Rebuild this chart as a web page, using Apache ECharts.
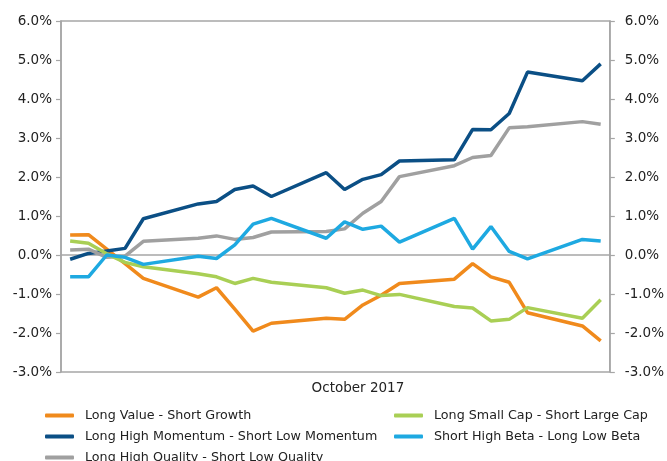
<!DOCTYPE html>
<html>
<head>
<meta charset="utf-8">
<script src="https://cdn.jsdelivr.net/npm/echarts@6/dist/echarts.min.js"></script>
<style>
  html, body { margin: 0; padding: 0; background: #fff; }
  #chart { width: 667px; height: 461px; }
</style>
</head>
<body>
<div id="chart"></div>
<script>
  // trading days in October 2017 (day of month)
  var days = [2, 3, 4, 5, 6, 9, 10, 11, 12, 13, 16, 17, 18, 19, 20, 23, 24, 25, 26, 27, 30, 31];

  // cumulative spread returns, %
  var valueGrowth = [0.51, 0.52, 0.15, -0.22, -0.60, -1.08, -0.84, -1.39, -1.95, -1.75, -1.62,
                     -1.65, -1.28, -1.03, -0.73, -0.62, -0.22, -0.56, -0.70, -1.48, -1.82, -2.20];
  var momentum    = [-0.11, 0.04, 0.10, 0.17, 0.93, 1.31, 1.37, 1.68, 1.77, 1.50, 2.11,
                     1.68, 1.94, 2.06, 2.41, 2.44, 3.22, 3.21, 3.63, 4.69, 4.47, 4.90];
  var quality     = [0.13, 0.15, -0.06, -0.03, 0.35, 0.43, 0.49, 0.40, 0.45, 0.59, 0.60,
                     0.67, 1.07, 1.37, 2.01, 2.29, 2.50, 2.55, 3.26, 3.29, 3.42, 3.35];
  var smallLarge  = [0.36, 0.30, 0.03, -0.19, -0.30, -0.48, -0.56, -0.73, -0.60, -0.70, -0.84,
                     -0.98, -0.90, -1.04, -1.01, -1.32, -1.36, -1.69, -1.65, -1.35, -1.62, -1.15];
  var beta        = [-0.56, -0.56, 0.00, -0.06, -0.24, -0.03, -0.09, 0.26, 0.79, 0.94, 0.43,
                     0.85, 0.66, 0.74, 0.33, 0.94, 0.15, 0.73, 0.09, -0.10, 0.40, 0.36];

  var names = [
    'Long Value - Short Growth',
    'Long High Momentum - Short Low Momentum',
    'Long High Quality - Short Low Quality',
    'Long Small Cap - Short Large Cap',
    'Short High Beta - Long Low Beta'
  ];
  var colors = ['#F08A1C', '#0B4F85', '#A0A0A0', '#A9CF55', '#1EA9E1'];
  var xName = 'October 2017';

  function pairs(vals) {
    var out = [];
    for (var i = 0; i < days.length; i++) {
      out.push([days[i], vals[i]]);
    }
    return out;
  }

  function yAxisOpt(pos, margin) {
    return {
      type: 'value',
      position: pos,
      min: -3,
      max: 6,
      interval: 1,
      splitLine: { show: false },
      axisLine: { show: true, lineStyle: { color: '#a6a6a6', width: 1.5 } },
      axisTick: { show: true, length: 5, lineStyle: { color: '#a6a6a6', width: 1.2 } },
      axisLabel: {
        margin: margin,
        color: '#222',
        fontSize: 13.5,
        formatter: function (v) { return v.toFixed(1) + '%'; }
      }
    };
  }

  // one legend per entry so the two columns sit where the reference has them
  function legendItem(name, left, top) {
    return {
      left: left, top: top, padding: 0,
      icon: 'roundRect', itemWidth: 29, itemHeight: 4,
      textStyle: { color: '#222', fontSize: 12.7, padding: [0, 0, 0, 6] },
      data: [name]
    };
  }

  var myChart = echarts.init(document.getElementById('chart'));
  var seriesList = [];
  var allData = [valueGrowth, momentum, quality, smallLarge, beta];
  for (var k = 0; k < names.length; k++) {
    seriesList.push({
      name: names[k],
      type: 'line',
      data: pairs(allData[k]),
      showSymbol: false,
      color: colors[k],
      lineStyle: { width: 3.5, color: colors[k] }
    });
  }

  myChart.setOption({
    animation: false,
    textStyle: { fontFamily: 'DejaVu Sans' },
    grid: {
      left: 61, right: 53, top: 21, bottom: 89,
      show: true, borderColor: '#a6a6a6', borderWidth: 1.5
    },
    legend: [
      legendItem(names[0], 45, 409),
      legendItem(names[1], 45, 430),
      legendItem(names[2], 45, 451),
      legendItem(names[3], 394, 409),
      legendItem(names[4], 394, 430)
    ],
    xAxis: {
      type: 'value',
      min: 1.5,
      max: 31.5,
      name: xName,
      nameLocation: 'middle',
      nameGap: 9,
      nameTextStyle: { color: '#222', fontSize: 13.5, padding: [0, 0, 0, 45] },
      axisLine: { show: true, lineStyle: { color: '#a6a6a6', width: 1.5 } },
      axisTick: { show: false },
      axisLabel: { show: false },
      splitLine: { show: false }
    },
    yAxis: [yAxisOpt('left', 9), yAxisOpt('right', 15)],
    series: seriesList
  });
</script>
</body>
</html>
